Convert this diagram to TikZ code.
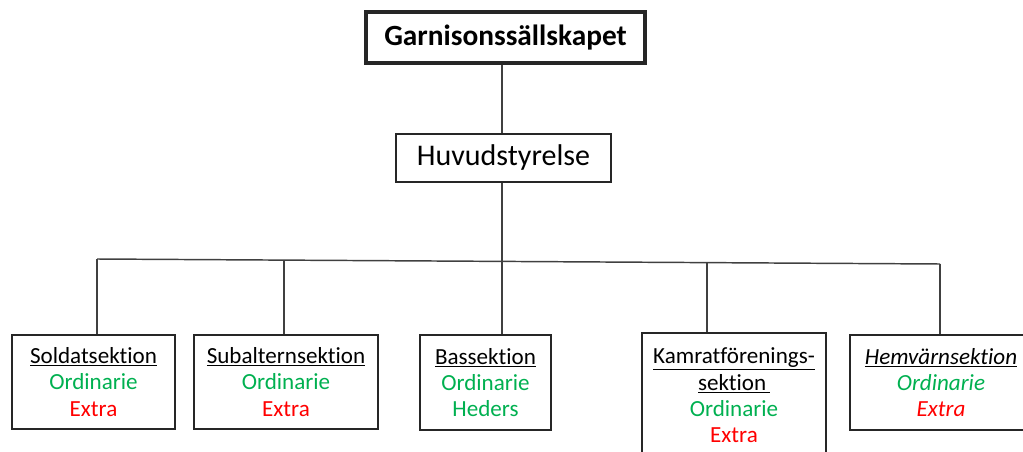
\documentclass[tikz,border=0pt]{standalone}
\usepackage{fontspec}
\setmainfont[RawFeature={-liga;-clig;-calt;-dlig}]{Carlito}
\definecolor{grn}{HTML}{00B050}
\definecolor{rd}{HTML}{FF0000}
\tikzset{
  box/.style={draw=black!85, line width=1.1pt, align=center, inner sep=0pt},
  sect/.style={box, font=\fontsize{17.3}{19.8}\selectfont},
  conn/.style={draw=black!75, line width=1.1pt},
}
\begin{document}
\begin{tikzpicture}[x=0.75pt,y=-0.75pt]
\useasboundingbox (0,0) rectangle (1023,452);
\node[box, line width=2.3pt, minimum width=0.75*279pt, minimum height=0.75*51pt,
      font=\fontsize{22}{26}\selectfont\bfseries] (top) at (505.5,37.5) {Garnisonssällskapet};
\node[box, minimum width=0.75*215pt, minimum height=0.75*48pt,
      font=\fontsize{22.5}{26}\selectfont] (huvud) at (503.5,158) {Huvudstyrelse};
\node[sect, minimum width=0.75*163pt, minimum height=0.75*94pt] (sold) at (93.5,382)
  {\underline{Soldatsektion}\\\textcolor{grn}{Ordinarie}\\\textcolor{rd}{Extra}};
\node[sect, minimum width=0.75*184pt, minimum height=0.75*94pt] (sub) at (286,382)
  {\underline{Subalternsektion}\\\textcolor{grn}{Ordinarie}\\\textcolor{rd}{Extra}};
\node[sect, minimum width=0.75*131pt, minimum height=0.75*95pt] (bass) at (485.5,382.5)
  {\underline{Bassektion}\\\textcolor{grn}{Ordinarie}\\\textcolor{grn}{Heders}};
\node[sect, minimum width=0.75*184pt, minimum height=0.75*125pt] (kam) at (734,395.5)
  {\underline{Kamratförenings-}\\\underline{sektion\,}\\\textcolor{grn}{Ordinarie}\\\textcolor{rd}{Extra}};
\node[sect, minimum width=0.75*182pt, minimum height=0.75*95pt, font=\fontsize{17.3}{19.8}\selectfont\itshape] (hem) at (941,382.5)
  {\underline{Hemvärnsektion}\\\textcolor{grn}{Ordinarie}\\\textcolor{rd}{Extra}};
\coordinate (j1) at (97,259);
\coordinate (j2) at (284,260.1);
\coordinate (j3) at (502,261.4);
\coordinate (j4) at (707,262.6);
\coordinate (j5) at (940,264);
\draw[conn] (top.south -| j3) -- (huvud.north -| j3);
\draw[conn] (huvud.south -| j3) -- (bass.north -| j3);
\draw[conn] (j1) -- (j5);
\draw[conn] (j1) -- (sold.north -| j1);
\draw[conn] (j2) -- (sub.north -| j2);
\draw[conn] (j4) -- (kam.north -| j4);
\draw[conn] (j5) -- (hem.north -| j5);
\end{tikzpicture}
\end{document}
